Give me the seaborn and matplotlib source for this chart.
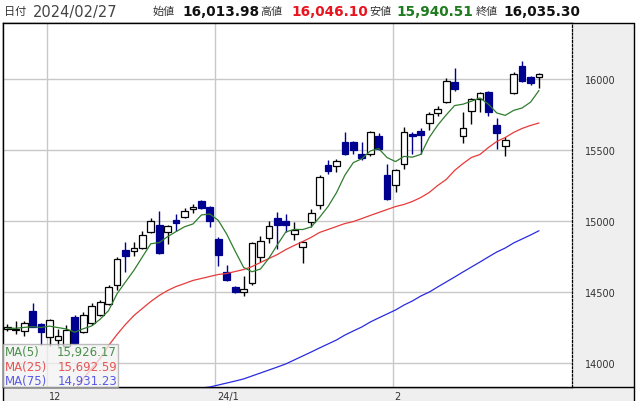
import numpy as np
import pandas as pd
import matplotlib
matplotlib.use("Agg")
import matplotlib.pyplot as plt
import matplotlib.transforms as mtransforms
from matplotlib.patches import Rectangle
import seaborn as sns

# ---------------- data ----------------
opens = [14237, 14230, 14223, 14364, 14272, 14180, 14159, 14117, 14322, 14216,
         14279, 14336, 14414, 14548, 14795, 14788, 14809, 14922, 14972, 14922,
         15007, 15028, 15085, 15141, 15099, 14873, 14640, 14534, 14498, 14562,
         14746, 14880, 15021, 15000, 14908, 14816, 14993, 15113, 15396, 15389,
         15558, 15558, 15474, 15474, 15601, 15325, 15254, 15403, 15615, 15636,
         15693, 15763, 15841, 15982, 15601, 15777, 15862, 15912, 15679, 15530,
         15905, 16095, 16018, 16013.98]
highs = [14272, 14294, 14294, 14421, 14279, 14308, 14237, 14265, 14336, 14357,
         14421, 14442, 14548, 14746, 14852, 14852, 14929, 15021, 15071, 14972,
         15050, 15092, 15120, 15148, 15106, 14887, 14689, 14541, 14611, 14852,
         14894, 15000, 15064, 15050, 14993, 14859, 15085, 15325, 15431, 15438,
         15629, 15565, 15558, 15636, 15622, 15403, 15368, 15664, 15629, 15657,
         15770, 15813, 16011, 16081, 15770, 15869, 15912, 15919, 15728, 15594,
         16053, 16131, 16025, 16046.10]
lows = [14223, 14202, 14188, 14248, 14124, 14117, 14117, 14110, 14130, 14210,
        14265, 14330, 14405, 14513, 14640, 14753, 14800, 14915, 14767, 14838,
        14930, 15021, 15057, 15085, 14958, 14682, 14576, 14491, 14470, 14548,
        14710, 14845, 14802, 14922, 14866, 14703, 14958, 15085, 15332, 15346,
        15467, 15474, 15431, 15460, 15502, 15148, 15205, 15368, 15474, 15474,
        15643, 15742, 15834, 15919, 15551, 15686, 15770, 15742, 15509, 15460,
        15898, 15982, 15961, 15940.51]
closes = [14251, 14240, 14279, 14251, 14216, 14300, 14188, 14230, 14138, 14336,
          14399, 14428, 14534, 14732, 14753, 14809, 14901, 15000, 14774, 14965,
          14986, 15071, 15099, 15092, 15000, 14760, 14583, 14498, 14520, 14845,
          14859, 14965, 14972, 14972, 14937, 14852, 15057, 15311, 15353, 15424,
          15474, 15502, 15445, 15629, 15509, 15156, 15360, 15629, 15601, 15608,
          15756, 15792, 15989, 15933, 15657, 15862, 15905, 15770, 15622, 15573,
          16039, 15989, 15975, 16035.30]
# closes of the four sessions before the window (for the 5-day average)
pre_closes = [14235, 14250, 14225, 14245]

nan = np.nan
ma25 = [nan] * 7 + [13720, 13800, 13887, 13958, 14029, 14120, 14198, 14269, 14332, 14382,
                    14431, 14474, 14509, 14537, 14558, 14580, 14594, 14608, 14622, 14629,
                    14643, 14657, 14678, 14707, 14735, 14763, 14798, 14827, 14855, 14884,
                    14919, 14940, 14961, 14982, 14996, 15017, 15039, 15060, 15081, 15102,
                    15117, 15138, 15166, 15202, 15251, 15293, 15357, 15406, 15449, 15470,
                    15519, 15562, 15590, 15626, 15654, 15675, 15692.59]
ma75 = [nan] * 21 + [13790, 13808, 13820, 13827, 13841, 13855, 13869, 13884, 13905, 13926,
                     13947, 13968, 13990, 14018, 14046, 14074, 14103, 14131, 14159, 14194,
                     14223, 14251, 14286, 14315, 14343, 14371, 14406, 14435, 14470, 14498,
                     14534, 14569, 14604, 14640, 14675, 14710, 14746, 14781, 14809, 14845,
                     14873, 14901, 14931.23]

month_starts = [5, 25, 46]
month_labels = ["12", "24/1", "2"]
y_ticks = [14000, 14500, 15000, 15500, 16000]

header_date = "2024/02/27"
header_items = [("始値", "16,013.98", "#111111"),
                ("高値", "16,046.10", "#e8141e"),
                ("安値", "15,940.51", "#1e7b1e"),
                ("終値", "16,035.30", "#111111")]
legend_items = [("MA(5)", "15,926.17", "#4a904a"),
                ("MA(25)", "15,692.59", "#e85555"),
                ("MA(75)", "14,931.23", "#5a5ae6")]

# ---------------- style ----------------
sns.set_style("white")
plt.rcParams["font.family"] = ["DejaVu Sans", "Noto Sans CJK JP"]

W, H = 636, 402
fig = plt.figure(figsize=(W / 100, H / 100), dpi=100)
fig.patch.set_facecolor("white")

# background (pixel coordinates)
bg = fig.add_axes([0, 0, 1, 1], zorder=0)
bg.set_xlim(0, W)
bg.set_ylim(H, 0)
bg.axis("off")
bg.add_patch(Rectangle((572, 24), 62, H - 24, facecolor="#efefef", edgecolor="none"))
bg.add_patch(Rectangle((3, 388), 631, H - 388, facecolor="#efefef", edgecolor="none"))
bg.plot([3, 634], [24, 24], color="black", lw=1)
bg.plot([3, 634], [388, 388], color="black", lw=1)
bg.plot([634, 634], [24, H], color="black", lw=1)
bg.plot([3, 3], [24, H], color="black", lw=1)

# main axes
L, R, T, B = 3, 572, 24, 388
ax = fig.add_axes([L / W, (H - B) / H, (R - L) / W, (B - T) / H], zorder=2)
ax.set_facecolor("white")

idx = np.arange(len(closes))
df = pd.DataFrame({"i": idx, "open": opens, "high": highs, "low": lows, "close": closes})
all_close = pd.Series(pre_closes + closes)
df["ma5"] = all_close.rolling(5).mean().iloc[len(pre_closes):].values
df["ma25"] = ma25
df["ma75"] = ma75

ax.set_xlim(-0.51, 66.91)
ax.set_ylim(13827, 16399)

# grid
for v in y_ticks:
    ax.axhline(v, color="#c8c8c8", lw=1, zorder=0)
grid_x = [m - 0.35 for m in month_starts]
for gx in grid_x:
    ax.axvline(gx, color="#c8c8c8", lw=1, zorder=0)

# candles
up_col, down_col = "black", "#000090"
bw = 0.8
for _, r in df.iterrows():
    up = r["close"] >= r["open"]
    ec = up_col if up else down_col
    fc = "white" if up else down_col
    ax.vlines(r["i"], r["low"], r["high"], color=ec, lw=1, zorder=3)
    bottom = min(r["open"], r["close"])
    h = max(abs(r["close"] - r["open"]), 8)
    ax.bar(r["i"], h, bottom=bottom, width=bw, color=fc, edgecolor=ec, linewidth=0.9, zorder=4)

# moving averages
sns.lineplot(data=df, x="i", y="ma75", ax=ax, color="#2a2ae0", lw=0.9, zorder=5)
sns.lineplot(data=df, x="i", y="ma25", ax=ax, color="#e83a3a", lw=0.9, zorder=5)
sns.lineplot(data=df, x="i", y="ma5", ax=ax, color="#2f7d2f", lw=0.9, zorder=5)

# axes formatting
ax.set_xlabel("")
ax.set_ylabel("")
ax.yaxis.tick_right()
ax.set_yticks(y_ticks)
ax.set_yticklabels([str(v) for v in y_ticks])
ax.tick_params(axis="y", length=0, pad=9, labelsize=7, labelcolor="#333333")
ax.set_xticks(grid_x)
ax.set_xticklabels(month_labels)
ax.tick_params(axis="x", length=0, pad=3, labelsize=7, labelcolor="#333333")
off = mtransforms.ScaledTranslation(2 / 100, 0, fig.dpi_scale_trans)
for lbl in ax.get_xticklabels():
    lbl.set_horizontalalignment("left")
    lbl.set_transform(lbl.get_transform() + off)
for s in ["left", "top", "bottom"]:
    ax.spines[s].set_color("black")
    ax.spines[s].set_linewidth(1)
ax.spines["right"].set_color("black")
ax.spines["right"].set_linewidth(0.9)
ax.spines["right"].set_linestyle((0, (1.5, 1.5)))

# overlay: header and legend (pixel coordinates)
ov = fig.add_axes([0, 0, 1, 1], zorder=10)
ov.set_xlim(0, W)
ov.set_ylim(H, 0)
ov.axis("off")
ov.patch.set_alpha(0)

ov.text(4, 12, "日付", fontsize=8, color="#333333", va="center", ha="left")
ov.text(33, 12, header_date, fontsize=10.5, color="#444444", va="center", ha="left")
lab_x = [153, 260, 369, 476]
val_x = [182, 291, 396, 503]
for (lab, val, col), lx, vx in zip(header_items, lab_x, val_x):
    ov.text(lx, 12, lab, fontsize=8, color="#333333", va="center", ha="left")
    ov.text(vx, 12, val, fontsize=9.8, color=col, fontweight="bold", va="center", ha="left")

ov.add_patch(Rectangle((3, 345), 115, 43, facecolor="#f2f2f2", alpha=0.75,
                       edgecolor="#a8a8a8", lw=1))
for k, (name, val, col) in enumerate(legend_items):
    yy = 353 + k * 14.5
    ov.text(5, yy, name, fontsize=8.5, color=col, va="center", ha="left")
    ov.text(117, yy, val, fontsize=8.5, color=col, va="center", ha="right")

fig.savefig("out.png", dpi=100)
